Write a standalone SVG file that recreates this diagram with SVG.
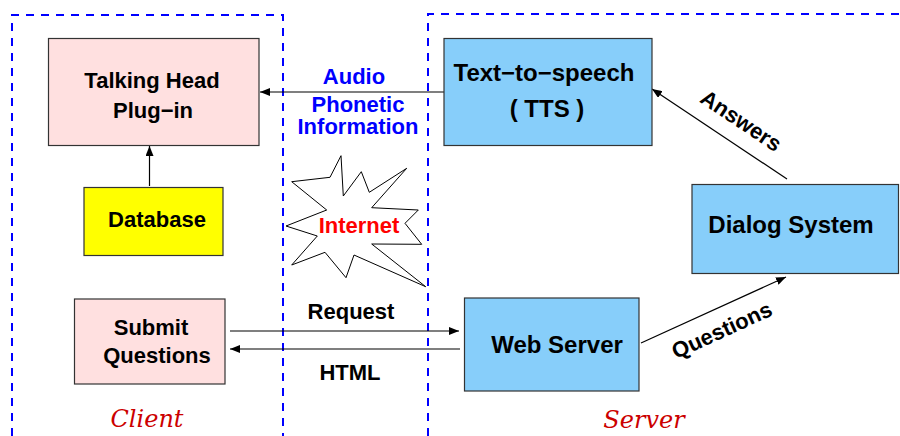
<svg xmlns="http://www.w3.org/2000/svg" width="900" height="436" viewBox="0 0 900 436">
<defs>
<style>
.zone{fill:none;stroke:#0000ff;stroke-width:2;stroke-dasharray:8 7}
.box{stroke:#333;stroke-width:1.2}
.pink{fill:#ffe0e0}
.blue{fill:#87cefa}
.yel{fill:#ffff00}
.t{font-family:"Liberation Sans",Arial,sans-serif;font-weight:bold;font-size:22px;fill:#000;text-anchor:middle}
.big{font-size:24px}
.bl{fill:#0000ff}
.red{fill:#ff0000}
.zl{font-family:"DejaVu Serif","Liberation Serif",serif;font-style:italic;font-size:24px;fill:#cc0000;text-anchor:middle}
.c{stroke:#000;stroke-width:1.2;fill:none}
</style>
<marker id="ah" viewBox="0 0 10 8" refX="10" refY="4" markerWidth="10" markerHeight="8" markerUnits="userSpaceOnUse" orient="auto">
<path d="M0,0 L10,4 L0,8 Z" fill="#000"/>
</marker>
</defs>
<rect width="900" height="436" fill="#fff"/>
<g id="zones">
<path class="zone" d="M12,436 V15 H283 V436"/>
<path class="zone" d="M428,436 V14 H900"/>
<text class="zl" x="147" y="427">Client</text>
<text class="zl" x="644" y="428">Server</text>
</g>
<g id="internet">
<polygon points="291.7,181.7 330,177.3 341,155.7 343.3,196 361.3,171.7 369.3,192.3 406.7,168.3 371.7,207.7 418.3,210 405,223.3 421.7,244.3 371.7,244 425.7,286.7 354,255 346,277.7 325,252.3 291.7,265 317.3,236 286,226 326.7,210" fill="#fff" stroke="#000" stroke-width="1"/>
<text class="t red" x="359" y="233">Internet</text>
</g>
<g id="connectors">
<line class="c" x1="444" y1="92" x2="260" y2="92" marker-end="url(#ah)"/>
<line class="c" x1="149.5" y1="186" x2="149.5" y2="146" marker-end="url(#ah)"/>
<line class="c" x1="230" y1="331" x2="459" y2="331" marker-end="url(#ah)"/>
<line class="c" x1="460" y1="349" x2="230" y2="349" marker-end="url(#ah)"/>
<line class="c" x1="787" y1="179" x2="652" y2="89" marker-end="url(#ah)"/>
<line class="c" x1="641" y1="343" x2="786" y2="277" marker-end="url(#ah)"/>
<text class="t bl" x="354" y="84">Audio</text>
<text class="t bl" x="358" y="112">Phonetic</text>
<text class="t bl" x="358" y="134">Information</text>
<text class="t" x="351" y="319">Request</text>
<text class="t" x="350" y="380">HTML</text>
<text class="t" transform="translate(737,127) rotate(33.7)">Answers</text>
<text class="t" transform="translate(725,337) rotate(-24.5)">Questions</text>
</g>
<g id="talking-head">
<rect class="box pink" x="48.5" y="38.5" width="210.5" height="107"/>
<text class="t" x="152" y="88">Talking Head</text>
<text class="t" x="153" y="118">Plug−in</text>
</g>
<g id="database">
<rect class="box yel" x="84" y="187.5" width="139" height="68"/>
<text class="t" x="157" y="227">Database</text>
</g>
<g id="submit">
<rect class="box pink" x="74.5" y="299" width="150.5" height="85"/>
<text class="t" x="151" y="335">Submit</text>
<text class="t" x="157" y="363">Questions</text>
</g>
<g id="tts">
<rect class="box blue" x="444" y="38.5" width="208" height="107"/>
<text class="t big" x="544" y="81">Text−to−speech</text>
<text class="t big" x="547" y="117">( TTS )</text>
</g>
<g id="dialog">
<rect class="box blue" x="692" y="184.5" width="206.5" height="89"/>
<text class="t big" x="791" y="233">Dialog System</text>
</g>
<g id="web-server">
<rect class="box blue" x="464.5" y="298" width="174.5" height="93"/>
<text class="t big" x="557" y="353">Web Server</text>
</g>
</svg>
